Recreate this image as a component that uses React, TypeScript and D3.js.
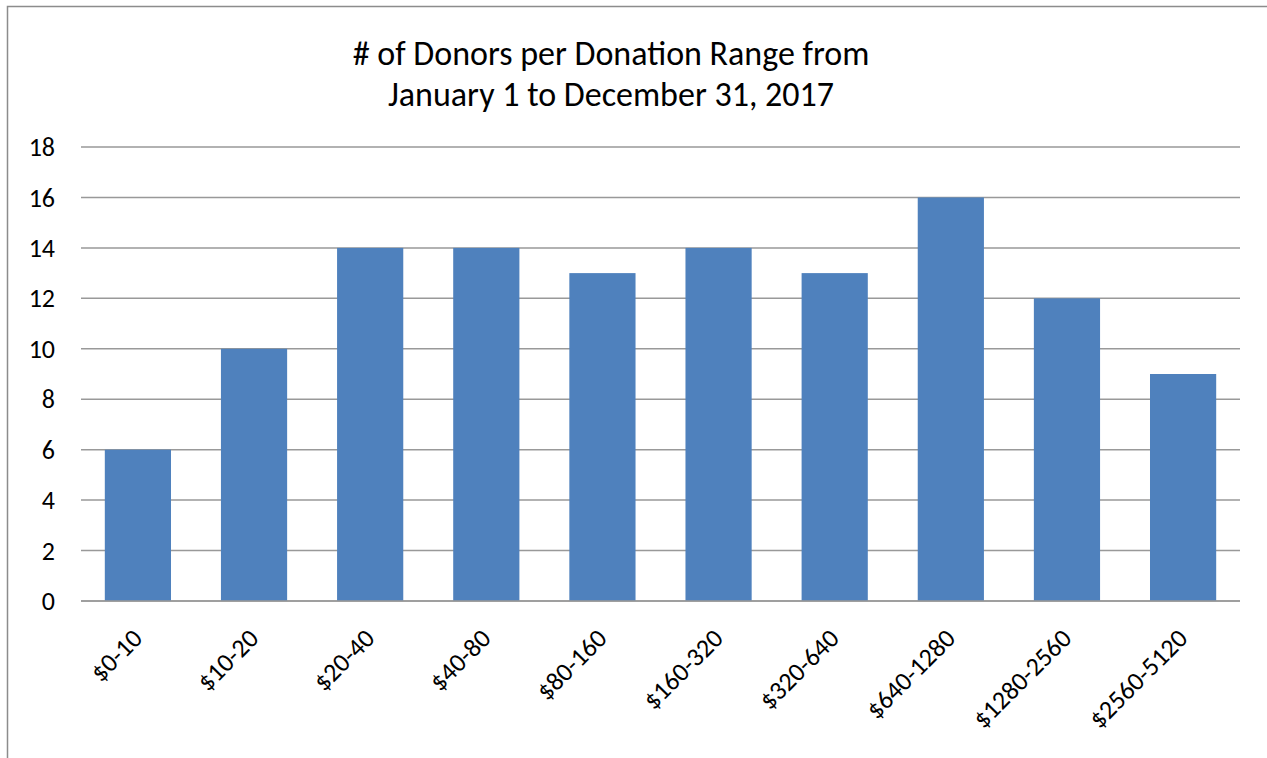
import React from "react";
import * as d3 from "d3";

const categories = ["$0-10", "$10-20", "$20-40", "$40-80", "$80-160", "$160-320", "$320-640", "$640-1280", "$1280-2560", "$2560-5120"];
const donors = [6, 10, 14, 14, 13, 14, 13, 16, 12, 9];
const yTicks = [0, 2, 4, 6, 8, 10, 12, 14, 16, 18];
const titleLines = ["# of Donors per Donation Range from", "January 1 to December 31, 2017"];

const W = 1267;
const H = 758;
const left = 81;
const right = 1240;
const top = 147;
const bottom = 601;
const FONT = "Carlito, Calibri, 'Open Sans', 'Liberation Sans', sans-serif";

export default function App() {
  const x = d3.scaleBand<string>().domain(categories).range([left, right]).paddingInner(0.43).paddingOuter(0.205);
  const y = d3.scaleLinear().domain([0, 18]).range([bottom, top]);

  return (
    <svg width={W} height={H} style={{ position: "absolute", left: 0, top: 0, background: "#fff" }} fontFamily={FONT}>
      <rect x={0} y={0} width={W} height={H} fill="#fff" />
      <path d={`M7.5,${H} L7.5,6.5 L${W},6.5`} fill="none" stroke="#8c8c8c" strokeWidth={1.5} />
      {titleLines.map((t, i) => (
        <text key={i} x={611} y={65 + i * 41} textAnchor="middle" fontSize={34} fill="#000">{t}</text>
      ))}
      {yTicks.map((t) => (
        <g key={t}>
          <line x1={left} x2={right} y1={y(t)} y2={y(t)} stroke="#999" strokeWidth={1.5} />
          <text x={55} y={y(t)} dy="0.35em" textAnchor="end" fontSize={26} fill="#000">{t}</text>
        </g>
      ))}
      {categories.map((c, i) => (
        <rect key={c} x={x(c)} y={y(donors[i])} width={x.bandwidth()} height={bottom - y(donors[i])} fill="#4f81bd" />
      ))}
      <line x1={left} x2={right} y1={bottom} y2={bottom} stroke="#999" strokeWidth={1.5} />
      {categories.map((c) => {
        const cx = (x(c) as number) + x.bandwidth() / 2;
        return (
          <text key={c} transform={`translate(${cx + 6},${640}) rotate(-45)`} textAnchor="end" fontSize={26} fill="#000">{c}</text>
        );
      })}
    </svg>
  );
}
